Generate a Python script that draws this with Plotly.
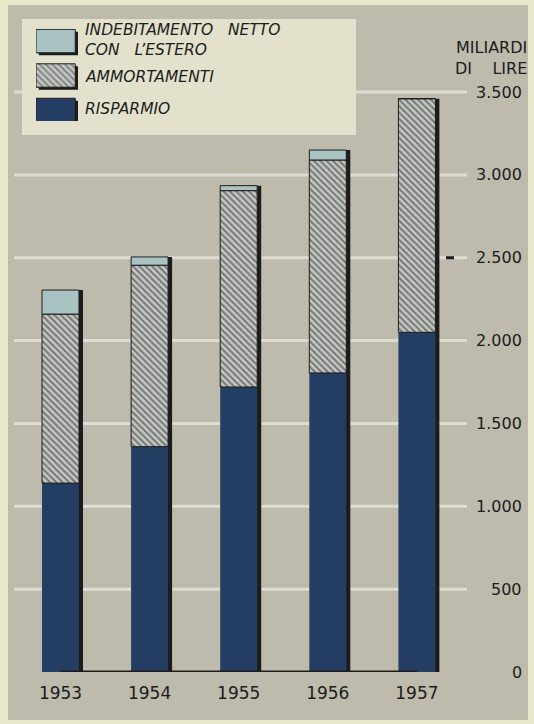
import plotly.graph_objects as go

# ---- data ----
years = ["1953", "1954", "1955", "1956", "1957"]
risparmio = [1140, 1360, 1720, 1805, 2050]
ammortamenti = [1020, 1095, 1185, 1285, 1410]
indebitamento = [145, 50, 30, 60, 0]
tick_vals = [0, 500, 1000, 1500, 2000, 2500, 3000, 3500]
tick_text = ["0", "500", "1.000", "1.500", "2.000", "2.500", "3.000", "3.500"]
legend_names = ["RISPARMIO", "AMMORTAMENTI",
                "INDEBITAMENTO\u00a0\u00a0\u00a0NETTO<br>CON\u00a0\u00a0\u00a0L\u2019ESTERO"]
unit_label = "MILIARDI<br>DI\u00a0\u00a0\u00a0\u00a0LIRE"

# ---- styles ----
NAVY = "#243d62"
HATCH_BG = "#c4c8c2"
HATCH_FG = "#262626"
INDEB = "#a9c3c2"
GRAY = "#bebbad"
CREAM = "#e9e7c9"
GRID = "#dedcd2"
INK = "#1c1c1c"
FONT = "DejaVu Sans"

W, H = 534, 724
ML, MR, MT, MB = 14, 67, 20, 52
PW = W - ML - MR
PH = H - MT - MB
Y_TOP = PH / 0.1657
C0, STEP = 60.5, 89.1  # pixel centre of first bar, pixel spacing


def px_x(px):
    return (px - ML) / PW


def px_y(py):
    return (H - MB - py) / PH


base_amm = risparmio
base_ind = [r + a for r, a in zip(risparmio, ammortamenti)]
totals = [r + a + i for r, a, i in zip(risparmio, ammortamenti, indebitamento)]

BW = 0.415
HATCH = dict(shape="\\", fgcolor=HATCH_FG, bgcolor=HATCH_BG, size=4.5,
             solidity=0.45, fillmode="overlay")
fig = go.Figure()

# baseline
fig.add_trace(go.Scatter(x=[years[0], years[-1]], y=[0, 0], mode="lines",
                         line=dict(color=INK, width=3), hoverinfo="skip",
                         showlegend=False))
# shadow
fig.add_trace(go.Bar(x=years, y=totals, base=0, width=BW, offset=-BW / 2 + 0.045,
                     marker=dict(color=INK, line=dict(width=0)), showlegend=False))
fig.add_trace(go.Bar(x=years, y=risparmio, base=0, width=BW, offset=-BW / 2,
                     name="RISPARMIO",
                     marker=dict(color=NAVY, line=dict(width=0)), showlegend=False))
fig.add_trace(go.Bar(x=years, y=ammortamenti, base=base_amm, width=BW, offset=-BW / 2,
                     name="AMMORTAMENTI",
                     marker=dict(color=HATCH_BG, pattern=HATCH,
                                 line=dict(width=1, color=INK)), showlegend=False))
fig.add_trace(go.Bar(x=years, y=indebitamento, base=base_ind, width=BW, offset=-BW / 2,
                     name="INDEBITAMENTO NETTO CON L'ESTERO",
                     marker=dict(color=INDEB, line=dict(width=1, color=INK)), showlegend=False))

# ---- legend swatches on a small second axis ----
sw_idx = [0, 1, 2]
sw_colors = [NAVY, HATCH_BG, INDEB]
sw_shapes = ["", "\\", ""]
fig.add_trace(go.Bar(x=[1, 1, 1], y=sw_idx, base=0.07, orientation="h", width=0.68,
                     offset=-0.34 - 0.07, xaxis="x2", yaxis="y2",
                     marker=dict(color=INK, line=dict(width=0)), showlegend=False,
                     hoverinfo="skip"))
fig.add_trace(go.Bar(x=[1, 1, 1], y=sw_idx, base=0, orientation="h", width=0.68,
                     offset=-0.34, xaxis="x2", yaxis="y2",
                     marker=dict(color=sw_colors,
                                 pattern=dict(HATCH, shape=sw_shapes),
                                 line=dict(width=1, color=INK)),
                     showlegend=False, hoverinfo="skip"))

shapes = []
# gray panel
shapes.append(dict(type="rect", xref="paper", yref="paper", layer="below",
                   x0=px_x(8), x1=px_x(528), y0=px_y(720), y1=px_y(5),
                   fillcolor=GRAY, line=dict(width=0)))
# gridlines
for v in tick_vals[1:]:
    shapes.append(dict(type="line", xref="paper", yref="y", layer="below",
                       x0=0, x1=1, y0=v, y1=v, line=dict(color=GRID, width=3)))
# small dash near the 2.500 label
shapes.append(dict(type="line", xref="paper", yref="y", layer="above",
                   x0=px_x(446), x1=px_x(454), y0=tick_vals[5], y1=tick_vals[5],
                   line=dict(color=INK, width=3)))
# legend box
shapes.append(dict(type="rect", xref="paper", yref="paper", layer="below",
                   x0=px_x(22), x1=px_x(356), y0=px_y(135), y1=px_y(19),
                   fillcolor="#e3e1cc", line=dict(width=0)))

annotations = []
for v, t in zip(tick_vals, tick_text):
    annotations.append(dict(x=px_x(524), xref="paper", y=v, yref="y", text=t,
                            showarrow=False, xanchor="right", yanchor="middle",
                            font=dict(family=FONT, size=16, color=INK)))
annotations.append(dict(x=px_x(529), xref="paper", y=px_y(58), yref="paper", text=unit_label,
                        showarrow=False, xanchor="right", yanchor="middle", align="right",
                        font=dict(family=FONT, size=16, color=INK)))

leg_font = dict(family=FONT, size=15.5, color=INK)
leg_lines = [
    (legend_names[2], 40),
    (legend_names[1], 77),
    (legend_names[0], 109),
]
for txt, py in leg_lines:
    annotations.append(dict(x=px_x(83), xref="paper", y=px_y(py), yref="paper",
                            text="<i>" + txt + "</i>", showarrow=False, align="left",
                            xanchor="left", yanchor="middle", font=leg_font))

fig.update_layout(
    width=W, height=H,
    margin=dict(l=ML, r=MR, t=MT, b=MB, pad=0),
    paper_bgcolor=CREAM,
    plot_bgcolor="rgba(0,0,0,0)",
    barmode="overlay",
    showlegend=False,
    shapes=shapes,
    annotations=annotations,
    xaxis=dict(type="category", categoryorder="array", categoryarray=years,
               range=[(ML - C0) / STEP, (ML + PW - C0) / STEP],
               showgrid=False, zeroline=False, showline=False, ticks="",
               tickfont=dict(family=FONT, size=17, color=INK), ticklabelstandoff=9),
    yaxis=dict(range=[0, Y_TOP], showgrid=False, zeroline=False, showline=False,
               showticklabels=False, ticks=""),
    xaxis2=dict(domain=[px_x(36), px_x(78)], range=[0, 1.07], anchor="y2",
                visible=False, fixedrange=True),
    yaxis2=dict(domain=[px_y(121), px_y(29)], range=[-0.32, 2.35], anchor="x2",
                visible=False, fixedrange=True),
)

fig.write_html("out.html", config={"displayModeBar": False},
               post_script="document.body.style.margin='0';"
                           "document.body.style.background='" + CREAM + "';")
